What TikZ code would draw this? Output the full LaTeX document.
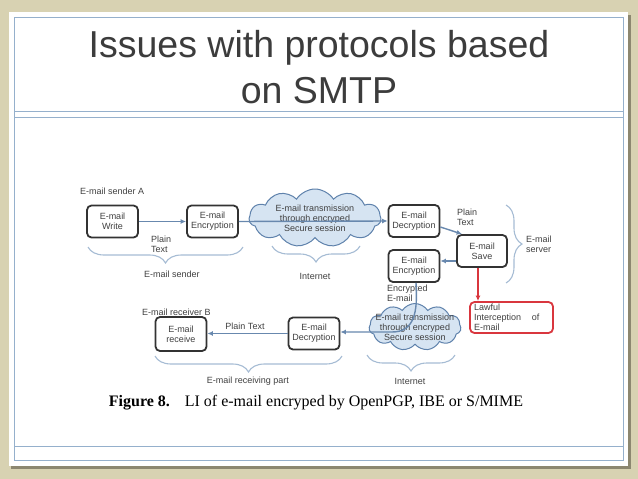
\documentclass[tikz,border=0pt]{standalone}
\usepackage{fontspec}
\setmainfont{Liberation Sans}
\newfontfamily\capfont{Liberation Serif}
\usetikzlibrary{shapes.symbols,decorations.pathreplacing,arrows.meta}
\definecolor{bgbeige}{HTML}{D8D2B2}
\definecolor{shadowcol}{HTML}{8C8770}
\definecolor{framecol}{HTML}{95B0CC}
\definecolor{boxline}{HTML}{333333}
\definecolor{arrowcol}{HTML}{6888AE}
\definecolor{cloudfill}{HTML}{D6E4F2}
\definecolor{cloudline}{HTML}{5F82AC}
\definecolor{bracecol}{HTML}{A6BCD4}
\definecolor{txtcol}{HTML}{404040}
\definecolor{redcol}{HTML}{D9363E}
\definecolor{titlecol}{HTML}{3C3C3C}
\tikzset{
  small/.style={font=\fontsize{9}{10}\selectfont, text=txtcol, inner sep=0pt},
  box/.style={small, draw=boxline, line width=1.8pt, rounded corners=4.5pt,
    minimum width=51pt, minimum height=32pt, align=center},
  redbox/.style={box, draw=redcol, align=left},
  cloudnode/.style={cloud, cloud puffs=11, cloud puff arc=115, inner sep=0pt,
    cloud ignores aspect, draw=cloudline, fill=cloudfill, line width=1pt},
  cloudtext/.style={small, align=center},
  arr/.style={draw=arrowcol, line width=1.4pt, -{Latex[length=5.5pt,width=5pt]}},
  redarr/.style={draw=redcol, line width=1.6pt, -{Latex[length=5.5pt,width=5pt]}},
  bracedeco/.style={draw=bracecol, line width=1.1pt,
    decorate, decoration={brace, amplitude=16pt}},
  bracedecomirror/.style={draw=bracecol, line width=1.1pt,
    decorate, decoration={brace, amplitude=16pt, mirror}},
  lbl/.style={small, align=left},
}
\begin{document}
\begin{tikzpicture}[x=1pt, y=-1pt]
\useasboundingbox (0,0) rectangle (638,479);
\fill[bgbeige] (0,0) rectangle (638,479);
% slide
\fill[shadowcol] (11,15) rectangle (631,469);
\fill[white] (9,12) rectangle (628,466);
\draw[framecol, line width=0.8pt] (14,17) rectangle (623,460);
\draw[framecol, line width=0.8pt] (14,111) -- (623,111);
\draw[framecol, line width=0.8pt] (14,117) -- (623,117);
\draw[framecol, line width=0.8pt] (14,446) -- (623,446);
% title
\node[anchor=base, text=titlecol, font=\fontsize{37.5}{45}\selectfont, inner sep=0pt] (title1) at (319,57) {Issues with protocols based};
\node[anchor=base, text=titlecol, font=\fontsize{37.5}{45}\selectfont, inner sep=0pt] (title2) at (319,103) {on SMTP};
% clouds
\node[cloudnode, minimum width=132pt, minimum height=58pt] (cloud1) at (315,218) {};
\node[cloudtext] (cloud1text) at (cloud1) {E-mail transmission\\through encryped\\Secure session};
\node[cloudnode, minimum width=92pt, minimum height=47pt] (cloud2) at (415,327) {};
\node[cloudtext] (cloud2text) at (cloud2) {E-mail transmission\\through encryped\\Secure session};
% boxes
\node[box] (write) at (112.5,221.5) {E-mail\\Write};
\node[box] (enc1) at (212.5,221.5) {E-mail\\Encryption};
\node[box] (dec1) at (414,221) {E-mail\\Decryption};
\node[box, minimum width=50pt] (save) at (482,251) {E-mail\\Save};
\node[box] (enc2) at (414,266) {E-mail\\Encryption};
\node[redbox, minimum width=83pt, minimum height=31pt, text width=75pt] (lawful) at (511.5,317.5) {Lawful\\Interception\hspace{1.2em}of\\E-mail};
\node[box] (dec2) at (314,333.5) {E-mail\\Decryption};
\node[box, minimum height=34pt] (recv) at (181,334) {E-mail\\receive};
% labels
\node[lbl, anchor=west] (senderA) at (80,191) {E-mail sender A};
\node[lbl, anchor=north west] (plain1) at (151,236) {Plain\\Text};
\node[lbl, anchor=north west] (plain2) at (457,209) {Plain\\Text};
\node[lbl, anchor=north west] (encmail) at (387,285) {Encrypted\\E-mail};
\node[lbl] (plain3) at (245,326) {Plain Text};
\node[lbl, anchor=west] (receiverB) at (142,312) {E-mail receiver B};
\node[lbl, anchor=west] (server) at (526,244) {E-mail\\server};
\node[small] (lsender) at (172,274) {E-mail sender};
\node[small] (linternet1) at (315,276) {Internet};
\node[small] (lreceiving) at (248,381) {E-mail receiving part};
\node[small] (linternet2) at (410,381) {Internet};
% braces
\coordinate (b1a) at (88,247); \coordinate (b1b) at (243,247);
\coordinate (b2a) at (272,246); \coordinate (b2b) at (360,246);
\coordinate (b3a) at (506,205); \coordinate (b3b) at (506,283);
\coordinate (b4a) at (155,356); \coordinate (b4b) at (342,356);
\coordinate (b5a) at (367,355); \coordinate (b5b) at (455,355);
\draw[bracedecomirror] (b1a) -- (b1b);
\draw[bracedecomirror] (b2a) -- (b2b);
\draw[bracedeco] (b3a) -- (b3b);
\draw[bracedecomirror] (b4a) -- (b4b);
\draw[bracedecomirror] (b5a) -- (b5b);
% connectors
\draw[arr] (write) -- (enc1);
\draw[arr] (enc1.east) -- (dec1.west);
\draw[arr] ([yshift=-6pt]dec1.east) -- ([xshift=6pt]save.north west);
\draw[arr] ([yshift=-10pt]save.west) -- ([yshift=-10pt]save.west -| enc2.east);
\draw[redarr] ([xshift=-4pt]save.south) -- ([xshift=-4pt]save.south |- lawful.north);
\coordinate (cv) at (392,332);
\draw[arr] ([xshift=2pt]enc2.south) .. controls +(2,30) and +(22,0) .. (cv) -- (cv -| dec2.east);
\draw[arr] (dec2.west) -- (dec2.west -| recv.east);
% caption
\node[anchor=base, inner sep=0pt, font=\capfont\fontsize{16}{18}\selectfont] (caption) at (316,406) {\textbf{Figure 8.}\hspace{0.6em} LI of e-mail encryped by OpenPGP, IBE or S/MIME};
\end{tikzpicture}
\end{document}
